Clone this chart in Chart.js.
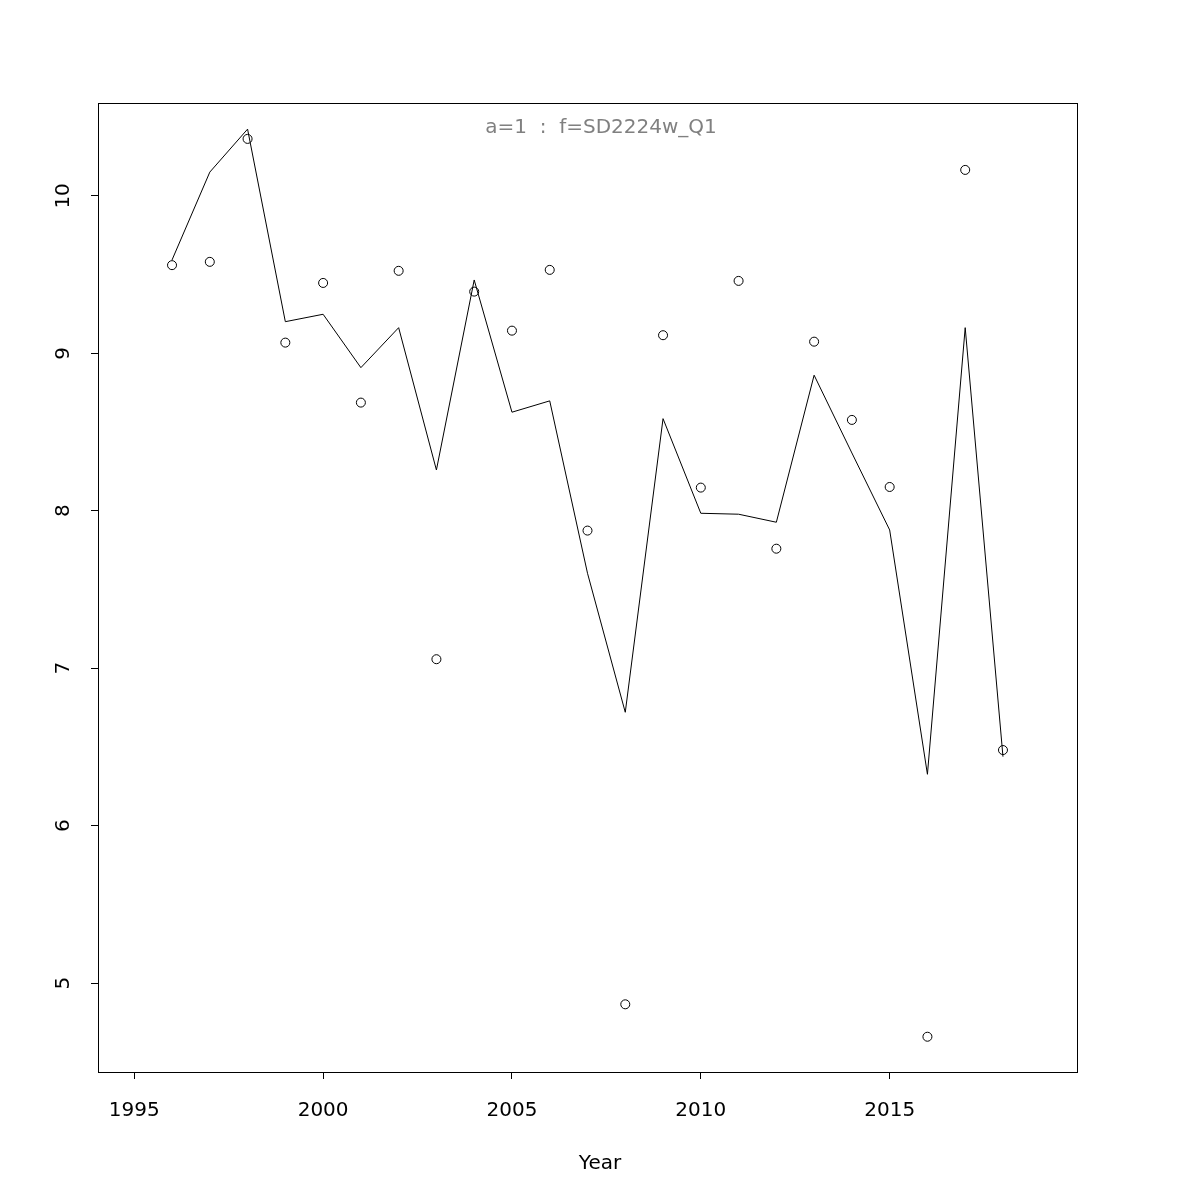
<!DOCTYPE html>
<html>
<head>
<meta charset="utf-8">
<title>SD2224w_Q1</title>
<script src="https://cdn.jsdelivr.net/npm/chart.js@4.4.1/dist/chart.umd.min.js"></script>
<style>
    html, body { margin: 0; padding: 0; background: #ffffff; }
    #grafico { display: block; }
</style>
</head>
<body>
<canvas id="grafico" width="1200" height="1200"></canvas>
<script>
// dados
const anos = [1996, 1997, 1998, 1999, 2000, 2001, 2002, 2003, 2004, 2005, 2006, 2007,
              2008, 2009, 2010, 2011, 2012, 2013, 2014, 2015, 2016, 2017, 2018];

// pontos observados (circulos)
const observado = [9.560, 9.581, 10.362, 9.068, 9.447, 8.687, 9.524, 7.057, 9.392, 9.144, 9.530, 7.874,
                   4.865, 9.115, 8.147, 9.460, 7.759, 9.074, 8.577, 8.151, 4.659, 10.165, 6.480];

// linha ajustada
const ajustado = [9.593, 10.151, 10.424, 9.201, 9.248, 8.909, 9.163, 8.259, 9.466, 8.626, 8.698, 7.603,
                  6.720, 8.585, 7.984, 7.978, 7.927, 8.861, 8.367, 7.878, 6.326, 9.163, 6.438];

const ticksX = [1995, 2000, 2005, 2010, 2015];
const ticksY = [5, 6, 7, 8, 9, 10];

const tituloPainel = 'a=1  :  f=SD2224w_Q1';
const tituloX = 'Year';

const fonte = 'DejaVu Sans';

// caixa do grafico, linhas dos eixos e titulos (estilo R)
const estiloR = {
    id: 'estiloR',
    afterDraw(chart) {
        const { ctx, chartArea: a, scales } = chart;
        ctx.save();
        ctx.strokeStyle = '#000';
        ctx.lineWidth = 1;
        ctx.strokeRect(a.left + 0.5, a.top + 0.5, a.right - a.left, a.bottom - a.top);

        // eixo x: do primeiro ao ultimo tick
        const x0 = scales.x.getPixelForValue(ticksX[0]);
        const x1 = scales.x.getPixelForValue(ticksX[ticksX.length - 1]);
        ctx.beginPath();
        ctx.moveTo(Math.round(x0) + 0.5, a.bottom + 0.5);
        ctx.lineTo(Math.round(x1) + 0.5, a.bottom + 0.5);
        // eixo y
        const y0 = scales.y.getPixelForValue(ticksY[0]);
        const y1 = scales.y.getPixelForValue(ticksY[ticksY.length - 1]);
        ctx.moveTo(a.left + 0.5, Math.round(y0) + 0.5);
        ctx.lineTo(a.left + 0.5, Math.round(y1) + 0.5);
        ctx.stroke();

        const centro = chart.width / 2;
        ctx.font = `20px "${fonte}"`;
        ctx.textAlign = 'center';
        ctx.textBaseline = 'middle';
        ctx.fillStyle = '#808080';
        ctx.fillText(tituloPainel, centro + 1, a.top + 25);
        ctx.fillStyle = '#000';
        ctx.fillText(tituloX, centro, 1164);
        ctx.restore();
    }
};

const pontosObs = anos.map((ano, i) => ({ x: ano, y: observado[i] }));
const pontosAjust = anos.map((ano, i) => ({ x: ano, y: ajustado[i] }));

new Chart(document.getElementById('grafico'), {
    type: 'scatter',
    data: {
        datasets: [
            {
                label: 'ajustado',
                data: pontosAjust,
                showLine: true,
                borderColor: '#000',
                borderWidth: 1,
                pointRadius: 0,
                pointHoverRadius: 0,
                tension: 0
            },
            {
                label: 'observado',
                data: pontosObs,
                showLine: false,
                pointStyle: 'circle',
                pointRadius: 4.5,
                pointBorderWidth: 1,
                pointBorderColor: '#000',
                pointBackgroundColor: 'rgba(0,0,0,0)'
            }
        ]
    },
    options: {
        responsive: false,
        animation: false,
        devicePixelRatio: 1,
        layout: {
            padding: { top: 103, right: 123, left: 0, bottom: 0 }
        },
        plugins: {
            legend: { display: false },
            tooltip: { enabled: false }
        },
        scales: {
            x: {
                type: 'linear',
                min: 1994.04,
                max: 2019.96,
                afterFit: s => { s.height = 128; },
                afterBuildTicks: s => { s.ticks = ticksX.map(v => ({ value: v })); },
                grid: {
                    drawOnChartArea: false,
                    drawTicks: true,
                    tickLength: 7,
                    color: '#000'
                },
                border: { display: false },
                ticks: {
                    color: '#000',
                    padding: 20,
                    maxRotation: 0,
                    font: { family: fonte, size: 20 },
                    callback: v => String(v)
                }
            },
            y: {
                type: 'linear',
                min: 4.435,
                max: 10.59,
                afterFit: s => { s.width = 98; },
                afterBuildTicks: s => { s.ticks = ticksY.map(v => ({ value: v })); },
                grid: {
                    drawOnChartArea: false,
                    drawTicks: true,
                    tickLength: 7,
                    color: '#000'
                },
                border: { display: false },
                ticks: {
                    color: '#000',
                    padding: 14,
                    minRotation: 90,
                    maxRotation: 90,
                    crossAlign: 'center',
                    font: { family: fonte, size: 20 },
                    callback: v => String(v)
                }
            }
        }
    },
    plugins: [estiloR]
});
</script>
</body>
</html>
